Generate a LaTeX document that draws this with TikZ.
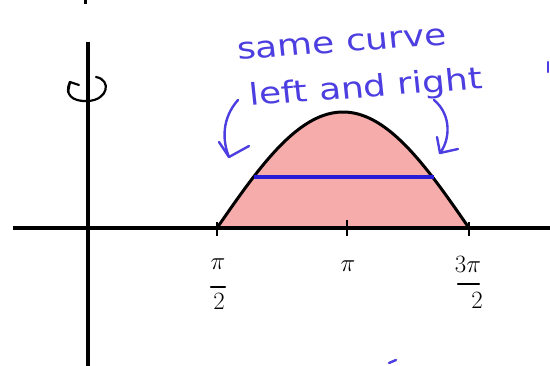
\documentclass[tikz,border=0pt]{standalone}
\usepackage{fontspec}
\newfontfamily\hand{DejaVu Sans}
\usetikzlibrary{arrows.meta}
\definecolor{fillpink}{RGB}{246,172,170}
\definecolor{inkblue}{RGB}{76,62,224}
\definecolor{lineblue}{RGB}{40,28,215}
\begin{document}
\begin{tikzpicture}[x=1pt,y=-1pt,
  axisline/.style={line width=3.6pt,black},
  curveline/.style={line width=3pt,black,line join=round},
  inkline/.style={line width=2.4pt,inkblue,line cap=round,line join=round},
  handtext/.style={inkblue,font=\hand\fontsize{30}{30}\selectfont,inner sep=0pt,xscale=1.2},
  ticklabel/.style={font=\fontsize{26}{26}\selectfont,inner sep=0pt},
  penline/.style={line width=2.2pt,black,line cap=round,line join=round}]
\useasboundingbox (0,0) rectangle (550,366);
% coordinates
\coordinate (xl) at (13,228);
\coordinate (xr) at (550,228);
\coordinate (yt) at (88,42);
\coordinate (yb) at (88,366);
\coordinate (bl) at (253.5,177);
\coordinate (br) at (434,177);
% region
\fill[fillpink] plot[domain=217:469,samples=90] (\x,{228-116*sin(0.7142857*(\x-217))}) -- cycle;
% axes
\draw[axisline] (xl) -- (xr);
\draw[axisline] (yt) -- (yb);
% curve
\draw[curveline] plot[domain=217:469,samples=90] (\x,{228-116*sin(0.7142857*(\x-217))});
% blue segment
\draw[lineblue,line width=3.2pt] (bl) -- (br);
% ticks
\draw[line width=2.6pt] (347,220) -- (347,236);
\draw[line width=2.6pt] (217,222) -- (217,236);
\draw[line width=2.6pt] (469,222) -- (469,236);
% tick labels
\node[ticklabel] (p1) at (218,264) {$\pi$};
\draw[penline] (211,287) -- (225,287);
\node[ticklabel] (p2) at (219,301) {$2$};
\node[ticklabel] (pp) at (348,266) {$\pi$};
\node[ticklabel] (p3) at (468,264) {$3\pi$};
\draw[penline] (458,284) -- (479,284);
\node[ticklabel] (p4) at (477,300) {$2$};
% rotation symbol
\draw[penline] (96,77) .. controls (112,80) and (108,100) .. (88,101)
  .. controls (72,102) and (64,94) .. (70,82);
\draw[penline] (79,85) -- (70,82) -- (68,92);
% handwritten text
\node[handtext,rotate=5] (t1) at (342,44) {same curve};
\node[handtext,rotate=5] (t2) at (366,89) {left and right};
% arrows
\draw[inkline] (238,100) .. controls (222,118) and (222,140) .. (229,157);
\draw[inkline] (219,142) -- (229,157) -- (249,146);
\draw[inkline] (434,100) .. controls (452,115) and (450,140) .. (440,153);
\draw[inkline] (437,137) -- (440,153) -- (458,149);
% stray marks at edges
\draw[line width=3pt] (85,0) -- (85,4);
\draw[inkline] (548,62) -- (548,72);
\draw[inkline] (389,363) -- (396,360);
\end{tikzpicture}
\end{document}
